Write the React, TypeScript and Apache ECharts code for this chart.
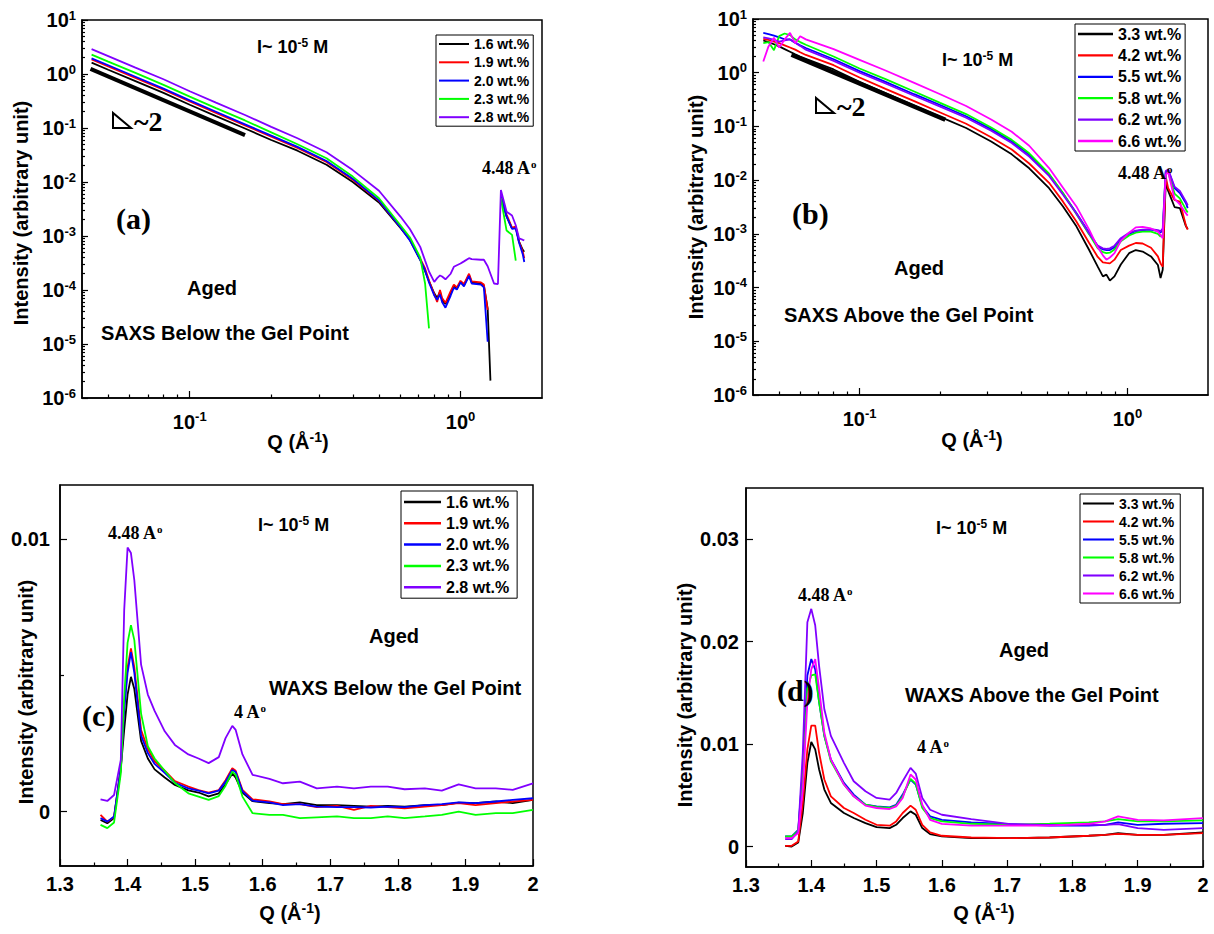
import React, { useEffect, useRef } from "react";
import * as echarts from "echarts";

const SANS = '"Liberation Sans", Arial, Helvetica, sans-serif';
const SERIF = '"Liberation Serif", "Times New Roman", Times, serif';

// ---------- legends / colours ----------
const namesBelow = ["1.6 wt.%", "1.9 wt.%", "2.0 wt.%", "2.3 wt.%", "2.8 wt.%"];
const colorsBelow = ["#000000", "#ff0000", "#0000ff", "#00ff00", "#8000ff"];
const namesAbove = ["3.3 wt.%", "4.2 wt.%", "5.5 wt.%", "5.8 wt.%", "6.2 wt.%", "6.6 wt.%"];
const colorsAbove = ["#000000", "#ff0000", "#0000ff", "#00ff00", "#8000ff", "#ff00ff"];

// ---------- tick labels ----------
const saxsQRange = [0.04, 2];
const saxsXExp = [-1, 0];
const saxsYExp = [-6, 1];
const waxsXTicks = [1.3, 1.4, 1.5, 1.6, 1.7, 1.8, 1.9, 2.0];
const waxsXMinor = [1.35, 1.45, 1.55, 1.65, 1.75, 1.85, 1.95];
const waxsCYTicks = [0, 0.01];
const waxsCYMinor = [0.005];
const waxsDYTicks = [0, 0.01, 0.02, 0.03];

// ---------- (a) SAXS below the gel point ----------
const qA = [0.0434, 0.05, 0.063, 0.08, 0.1, 0.125, 0.16, 0.2, 0.25, 0.32, 0.4, 0.5, 0.6, 0.65, 0.71, 0.74, 0.765, 0.8, 0.82, 0.84, 0.855, 0.88, 0.92, 0.945, 0.97, 1.0, 1.03, 1.075, 1.1, 1.19, 1.22, 1.26, 1.29, 1.33, 1.375, 1.41, 1.48, 1.55, 1.6, 1.645, 1.7, 1.72];
const a16 = [1.62, 1.2, 0.74, 0.447, 0.269, 0.166, 0.098, 0.06, 0.038, 0.0209, 0.01, 4.17e-3, 1.41e-3, 8.5e-4, 3.6e-4, 2.24e-4, 1.45e-4, 8.7e-5, 7.1e-5, 9.3e-5, 6.5e-5, 5.5e-5, 8.7e-5, 1.15e-4, 1.07e-4, 1.41e-4, 1.23e-4, 1.9e-4, 1.38e-4, 1.32e-4, 1.2e-4, 4.5e-5, 2.1e-6, null, null, 5.4e-3, 2.3e-3, 1.38e-3, 1.45e-3, 7.9e-4, 5.5e-4, 5.1e-4];
const a19 = [1.86, 1.38, 0.85, 0.513, 0.309, 0.191, 0.112, 0.069, 0.0427, 0.0234, 0.011, 4.47e-3, 1.48e-3, 8.7e-4, 3.8e-4, 2.5e-4, 1.5e-4, 8.3e-5, 6.0e-5, 1.0e-4, 7.1e-5, 5.8e-5, 9.5e-5, 1.26e-4, 1.12e-4, 1.48e-4, 1.29e-4, 2.0e-4, 1.45e-4, 1.38e-4, 1.26e-4, 4.3e-5, null, null, null, 5.4e-3, 2.5e-3, 1.41e-3, 1.51e-3, 7.9e-4, 5.0e-4, 3.9e-4];
const a20 = [1.95, 1.45, 0.89, 0.537, 0.324, 0.2, 0.117, 0.0724, 0.0447, 0.0245, 0.0115, 4.57e-3, 1.45e-3, 8.3e-4, 3.6e-4, 2.3e-4, 1.38e-4, 7.9e-5, 6.6e-5, 8.3e-5, 6.0e-5, 4.7e-5, 7.9e-5, 1.1e-4, 1.02e-4, 1.38e-4, 1.17e-4, 1.82e-4, 1.32e-4, 1.26e-4, 1.12e-4, 1.1e-5, null, null, null, 5.4e-3, 2.3e-3, 1.35e-3, 1.38e-3, 7.6e-4, 4.5e-4, 3.3e-4];
const a23 = [2.29, 1.7, 1.05, 0.63, 0.38, 0.234, 0.138, 0.083, 0.05, 0.0275, 0.0126, 5.0e-3, 1.58e-3, 9.5e-4, 4.0e-4, 1.32e-4, 1.95e-5, null, null, null, null, null, null, null, null, null, null, null, null, null, null, null, null, null, null, 5.0e-3, 1.26e-3, 1.05e-3, 3.5e-4, null, null, null];
const a28 = [2.88, 2.14, 1.31, 0.8, 0.48, 0.295, 0.174, 0.105, 0.0646, 0.0355, 0.0166, 6.9e-3, 2.29e-3, 1.35e-3, 6.3e-4, 3.5e-4, 2.2e-4, 1.41e-4, 1.66e-4, 1.86e-4, 1.78e-4, 1.58e-4, 2.0e-4, 2.69e-4, 2.88e-4, 3.09e-4, 3.39e-4, 3.89e-4, 3.72e-4, 3.63e-4, 3.63e-4, 2.75e-4, 2.0e-4, 1.32e-4, 1.29e-4, 7.08e-3, 2.82e-3, 2.4e-3, 1.58e-3, 9.1e-4, 8.5e-4, 8.3e-4];
const slopeAQ = [0.043, 0.16];
const slopeAI = [1.24, 0.074];

// ---------- (b) SAXS above the gel point ----------
const qB = [0.0437, 0.0457, 0.0479, 0.0501, 0.0525, 0.055, 0.0575, 0.06, 0.063, 0.08, 0.1, 0.125, 0.16, 0.2, 0.25, 0.31, 0.37, 0.43, 0.51, 0.575, 0.645, 0.72, 0.775, 0.81, 0.835, 0.86, 0.895, 0.945, 1.015, 1.075, 1.14, 1.225, 1.3, 1.33, 1.355, 1.39, 1.42, 1.5, 1.57, 1.655, 1.68];
const b33 = [3.98, 3.72, 3.39, 3.09, 2.75, 2.45, 2.19, 2.0, 1.82, 1.15, 0.676, 0.417, 0.245, 0.151, 0.0933, 0.0525, 0.0302, 0.0166, 7.08e-3, 3.24e-3, 1.38e-3, 5.0e-4, 2.45e-4, 1.62e-4, 1.74e-4, 1.35e-4, 1.62e-4, 2.69e-4, 4.37e-4, 5.0e-4, 4.68e-4, 3.8e-4, 2.63e-4, 1.51e-4, 2.14e-4, 8.9e-3, 6.3e-3, 3.16e-3, 3.02e-3, 1.38e-3, 1.23e-3];
const b42 = [4.27, 4.07, 3.8, 3.55, 3.24, 2.95, 2.69, 2.4, 2.14, 1.38, 0.813, 0.501, 0.295, 0.182, 0.112, 0.0631, 0.0372, 0.0204, 8.91e-3, 3.98e-3, 1.7e-3, 6.76e-4, 3.72e-4, 2.95e-4, 2.88e-4, 2.82e-4, 3.31e-4, 5.0e-4, 6.03e-4, 6.76e-4, 6.61e-4, 5.5e-4, 3.8e-4, 2.82e-4, 2.45e-4, 0.0117, 7.08e-3, 4.27e-3, 3.98e-3, 1.41e-3, 1.2e-3];
const b55 = [5.5, 5.25, 4.9, 4.57, 4.17, 4.17, 3.63, 3.24, 2.88, 1.78, 1.07, 0.676, 0.398, 0.251, 0.155, 0.0891, 0.0525, 0.0295, 0.0126, 5.62e-3, 2.45e-3, 1.05e-3, 5.9e-4, 5.13e-4, 5.0e-4, 5.0e-4, 5.62e-4, 7.94e-4, 1.0e-3, 1.12e-3, 1.17e-3, 1.2e-3, 1.12e-3, 1.07e-3, 1.12e-3, 0.0141, 0.0155, 7.08e-3, 5.75e-3, 3.72e-3, 3.02e-3];
const b58 = [3.55, 3.72, 2.63, 4.79, 5.37, 5.01, 4.17, 3.72, 3.31, 2.0, 1.2, 0.759, 0.447, 0.275, 0.17, 0.0955, 0.0562, 0.0316, 0.0132, 5.75e-3, 2.34e-3, 9.77e-4, 5.37e-4, 4.57e-4, 4.37e-4, 4.47e-4, 5.13e-4, 7.24e-4, 9.33e-4, 1.05e-3, 1.1e-3, 1.1e-3, 1.0e-3, 8.9e-4, 9.5e-4, 0.0132, 0.0141, 5.62e-3, 4.57e-3, 2.82e-3, 2.51e-3];
const b62 = [4.57, 4.37, 4.07, 3.8, 3.98, 4.17, 3.63, 3.16, 2.69, 1.66, 1.0, 0.631, 0.372, 0.234, 0.145, 0.0832, 0.049, 0.0275, 0.012, 5.37e-3, 2.4e-3, 1.02e-3, 6.03e-4, 5.37e-4, 5.25e-4, 5.37e-4, 6.03e-4, 8.32e-4, 1.05e-3, 1.15e-3, 1.2e-3, 1.23e-3, 1.17e-3, 1.12e-3, 1.26e-3, 0.0148, 0.0158, 7.59e-3, 6.31e-3, 3.98e-3, 3.39e-3];
const b66 = [1.62, 3.09, 4.47, 2.95, 4.17, 5.5, 3.55, 4.79, 4.17, 2.75, 1.74, 1.1, 0.646, 0.398, 0.24, 0.135, 0.0794, 0.0437, 0.0168, 7.24e-3, 3.24e-3, 1.2e-3, 5.62e-4, 3.98e-4, 3.31e-4, 3.63e-4, 4.37e-4, 7.41e-4, 1.05e-3, 1.32e-3, 1.35e-3, 1.26e-3, 1.1e-3, 9.55e-4, 8.32e-4, 0.0126, 0.0141, 4.47e-3, 3.55e-3, 2.4e-3, 2.19e-3];
const slopeBQ = [0.0557, 0.209];
const slopeBI = [2.16, 0.133];

// ---------- (c) WAXS below the gel point ----------
const qC = [1.36, 1.37, 1.38, 1.39, 1.395, 1.4, 1.405, 1.41, 1.42, 1.43, 1.44, 1.455, 1.47, 1.49, 1.505, 1.52, 1.535, 1.545, 1.555, 1.56, 1.57, 1.585, 1.61, 1.63, 1.655, 1.68, 1.71, 1.735, 1.76, 1.785, 1.81, 1.84, 1.865, 1.89, 1.915, 1.945, 1.97, 2.0];
const c16 = [-0.31e-3, -0.43e-3, -0.24e-3, 1.6e-3, 3.0e-3, 4.3e-3, 4.95e-3, 4.5e-3, 2.6e-3, 1.95e-3, 1.55e-3, 1.25e-3, 0.98e-3, 0.78e-3, 0.7e-3, 0.56e-3, 0.67e-3, 1.0e-3, 1.4e-3, 1.25e-3, 0.7e-3, 0.38e-3, 0.31e-3, 0.27e-3, 0.34e-3, 0.24e-3, 0.24e-3, 0.21e-3, 0.18e-3, 0.21e-3, 0.18e-3, 0.24e-3, 0.24e-3, 0.33e-3, 0.31e-3, 0.37e-3, 0.31e-3, 0.43e-3];
const c19 = [-0.12e-3, -0.37e-3, -0.2e-3, 1.6e-3, 3.9e-3, 5.3e-3, 6.0e-3, 5.3e-3, 3.0e-3, 2.3e-3, 1.85e-3, 1.5e-3, 1.12e-3, 0.92e-3, 0.79e-3, 0.7e-3, 0.79e-3, 1.15e-3, 1.59e-3, 1.5e-3, 0.8e-3, 0.45e-3, 0.37e-3, 0.27e-3, 0.27e-3, 0.16e-3, 0.21e-3, 0.06e-3, 0.21e-3, 0.16e-3, 0.12e-3, 0.18e-3, 0.24e-3, 0.31e-3, 0.24e-3, 0.31e-3, 0.37e-3, 0.43e-3];
const c20 = [-0.24e-3, -0.37e-3, -0.18e-3, 1.6e-3, 3.7e-3, 5.1e-3, 5.86e-3, 5.1e-3, 2.8e-3, 2.15e-3, 1.75e-3, 1.42e-3, 1.06e-3, 0.85e-3, 0.77e-3, 0.67e-3, 0.77e-3, 1.1e-3, 1.53e-3, 1.45e-3, 0.75e-3, 0.4e-3, 0.34e-3, 0.24e-3, 0.27e-3, 0.18e-3, 0.16e-3, 0.16e-3, 0.15e-3, 0.18e-3, 0.16e-3, 0.24e-3, 0.27e-3, 0.34e-3, 0.31e-3, 0.37e-3, 0.43e-3, 0.49e-3];
const c23 = [-0.49e-3, -0.61e-3, -0.4e-3, 1.4e-3, 4.2e-3, 6.2e-3, 6.85e-3, 6.3e-3, 3.6e-3, 2.4e-3, 1.95e-3, 1.5e-3, 1.05e-3, 0.67e-3, 0.55e-3, 0.43e-3, 0.57e-3, 0.95e-3, 1.47e-3, 1.35e-3, 0.55e-3, -0.06e-3, -0.12e-3, -0.12e-3, -0.24e-3, -0.21e-3, -0.18e-3, -0.24e-3, -0.24e-3, -0.18e-3, -0.24e-3, -0.18e-3, -0.12e-3, 0.0, -0.12e-3, -0.06e-3, -0.06e-3, 0.06e-3];
const c28 = [0.45e-3, 0.39e-3, 0.61e-3, 1.9e-3, 7.4e-3, 9.7e-3, 9.5e-3, 8.5e-3, 5.4e-3, 4.3e-3, 3.7e-3, 2.95e-3, 2.45e-3, 2.1e-3, 1.95e-3, 1.78e-3, 2.0e-3, 2.7e-3, 3.15e-3, 3.0e-3, 2.1e-3, 1.35e-3, 1.2e-3, 1.04e-3, 1.1e-3, 0.85e-3, 0.92e-3, 0.85e-3, 0.92e-3, 0.92e-3, 0.82e-3, 0.85e-3, 0.77e-3, 1.0e-3, 0.85e-3, 0.85e-3, 0.8e-3, 1.04e-3];

// ---------- (d) WAXS above the gel point ----------
const qD = [1.36, 1.37, 1.38, 1.387, 1.394, 1.4, 1.406, 1.412, 1.42, 1.43, 1.45, 1.465, 1.483, 1.5, 1.52, 1.53, 1.54, 1.552, 1.56, 1.57, 1.582, 1.6, 1.645, 1.705, 1.765, 1.825, 1.85, 1.87, 1.9, 1.94, 2.0];
const d33 = [0.07e-3, 0.0, 0.39e-3, 3.27e-3, 8.17e-3, 10.2e-3, 9.48e-3, 7.52e-3, 5.56e-3, 4.25e-3, 3.27e-3, 2.78e-3, 2.29e-3, 1.9e-3, 1.8e-3, 2.12e-3, 2.78e-3, 3.43e-3, 3.1e-3, 1.8e-3, 1.21e-3, 0.98e-3, 0.82e-3, 0.82e-3, 0.88e-3, 1.05e-3, 1.14e-3, 1.31e-3, 1.14e-3, 1.14e-3, 1.37e-3];
const d42 = [0.07e-3, 0.07e-3, 0.49e-3, 4.25e-3, 9.48e-3, 11.8e-3, 11.8e-3, 9.15e-3, 6.54e-3, 4.9e-3, 3.76e-3, 3.27e-3, 2.61e-3, 2.12e-3, 2.03e-3, 2.45e-3, 3.27e-3, 3.99e-3, 3.59e-3, 2.12e-3, 1.37e-3, 1.05e-3, 0.88e-3, 0.82e-3, 0.88e-3, 1.05e-3, 1.14e-3, 1.24e-3, 1.14e-3, 1.14e-3, 1.31e-3];
const d55 = [0.98e-3, 0.98e-3, 1.63e-3, 7.52e-3, 16.7e-3, 18.3e-3, 17.3e-3, 14.1e-3, 10.8e-3, 8.5e-3, 6.21e-3, 5.07e-3, 4.08e-3, 3.92e-3, 3.82e-3, 4.08e-3, 5.07e-3, 6.54e-3, 6.05e-3, 3.92e-3, 2.94e-3, 2.61e-3, 2.35e-3, 2.19e-3, 2.03e-3, 2.03e-3, 2.12e-3, 2.35e-3, 2.12e-3, 2.22e-3, 2.29e-3];
const d58 = [0.98e-3, 0.98e-3, 1.55e-3, 6.86e-3, 15.4e-3, 16.7e-3, 16.8e-3, 14.1e-3, 10.8e-3, 8.33e-3, 6.05e-3, 4.9e-3, 4.08e-3, 3.86e-3, 3.76e-3, 3.99e-3, 4.9e-3, 6.6e-3, 6.14e-3, 3.76e-3, 2.78e-3, 2.45e-3, 2.22e-3, 2.12e-3, 2.22e-3, 2.35e-3, 2.45e-3, 2.68e-3, 2.45e-3, 2.45e-3, 2.55e-3];
const d62 = [0.72e-3, 0.72e-3, 1.47e-3, 9.15e-3, 21.9e-3, 23.2e-3, 21.6e-3, 17.6e-3, 13.4e-3, 10.8e-3, 8.17e-3, 6.37e-3, 5.39e-3, 4.74e-3, 4.58e-3, 5.23e-3, 6.37e-3, 7.68e-3, 7.12e-3, 4.74e-3, 3.59e-3, 3.1e-3, 2.68e-3, 2.19e-3, 2.12e-3, 2.12e-3, 2.12e-3, 2.19e-3, 1.8e-3, 1.63e-3, 1.8e-3];
const d66 = [0.82e-3, 0.82e-3, 1.31e-3, 5.56e-3, 14.1e-3, 17.3e-3, 18.3e-3, 15.4e-3, 11.1e-3, 8.5e-3, 6.05e-3, 4.9e-3, 3.99e-3, 3.76e-3, 3.66e-3, 3.92e-3, 4.74e-3, 7.03e-3, 6.54e-3, 4.08e-3, 2.61e-3, 2.22e-3, 2.03e-3, 2.03e-3, 2.03e-3, 2.22e-3, 2.45e-3, 2.94e-3, 2.61e-3, 2.55e-3, 2.78e-3];

// ---------- option building ----------
const lg = Math.log10;
const BLACK = "#000";
const LINE_ICON = "path://M0,0 H30 V2 H0 Z";

function logData(q: number[], v: (number | null)[]) {
  return q.map((x, i) => [lg(x), v[i] == null ? "-" : lg(v[i] as number)]);
}
function linData(q: number[], v: number[]) {
  return q.map((x, i) => [x, v[i]]);
}
function lineSeries(name: string, color: string, data: any[], idx: number, width = 1.8) {
  return {
    type: "line", name, data, xAxisIndex: idx, yAxisIndex: idx,
    symbol: "none", showSymbol: false, connectNulls: false, silent: true,
    lineStyle: { color, width }, itemStyle: { color },
    emphasis: { disabled: true }, animation: false,
  };
}

const powRich = {
  b: { fontSize: 20, fontWeight: "bold", fontFamily: SANS, color: BLACK },
  s: { fontSize: 13, fontWeight: "bold", fontFamily: SANS, color: BLACK, padding: [0, 0, 10, 0] },
};
const powFmt = (v: number) => `{b|10}{s|${Math.round(v)}}`;
const axisLine = { show: true, onZero: false, lineStyle: { color: BLACK, width: 1.5 } };
const tickStyle = { color: BLACK, width: 1.2 };
const numLabel = { fontSize: 20, fontWeight: "bold", fontFamily: SANS, color: BLACK };

function logMinor(lo: number, hi: number) {
  const out: number[] = [];
  for (let d = Math.floor(lo) - 1; d <= Math.ceil(hi); d++) {
    for (let k = 2; k <= 9; k++) {
      const v = d + lg(k);
      if (v > lo + 1e-6 && v < hi - 1e-6) out.push(v);
    }
  }
  return out;
}

const gridRects = [
  { left: 82, top: 20, width: 460, height: 378 },
  { left: 753, top: 19, width: 455, height: 376 },
  { left: 60, top: 485, width: 473, height: 381 },
  { left: 746, top: 488, width: 457, height: 379 },
];

function buildOption() {
  const xMin = lg(saxsQRange[0]);
  const xMax = lg(saxsQRange[1]);
  const yMin = saxsYExp[0];
  const yMax = saxsYExp[1];

  const grids: any[] = gridRects.map((r) => ({ ...r, show: true, borderColor: BLACK, borderWidth: 1.5, backgroundColor: "transparent", containLabel: false }));
  gridRects.forEach((r) => grids.push({ ...r, show: false, containLabel: false }));

  const saxsX = (gridIndex: number) => ({
    type: "value", gridIndex, min: xMin, max: xMax, axisLine,
    axisTick: { show: true, inside: true, length: 7, lineStyle: tickStyle, customValues: saxsXExp },
    axisLabel: { show: true, customValues: saxsXExp, formatter: powFmt, rich: powRich, margin: 12, color: BLACK },
    splitLine: { show: false },
  });
  const saxsY = (gridIndex: number) => ({
    type: "value", gridIndex, min: yMin, max: yMax, interval: 1, axisLine,
    axisTick: { show: true, inside: true, length: 6, lineStyle: tickStyle },
    axisLabel: { show: true, formatter: powFmt, rich: powRich, margin: 6, color: BLACK },
    splitLine: { show: false },
  });
  const waxsX = (gridIndex: number) => ({
    type: "value", gridIndex, min: 1.3, max: 2.0, axisLine,
    axisTick: { show: true, inside: true, length: 7, lineStyle: tickStyle, customValues: waxsXTicks },
    axisLabel: {
      show: true, customValues: waxsXTicks, margin: 8, ...numLabel,
      formatter: (v: number) => (Math.abs(v - 2) < 1e-9 ? "2" : v.toFixed(1)),
    },
    splitLine: { show: false },
  });
  const waxsY = (gridIndex: number, min: number, max: number, ticks: number[], margin: number) => ({
    type: "value", gridIndex, min, max, axisLine,
    axisTick: { show: true, inside: true, length: 7, lineStyle: tickStyle, customValues: ticks },
    axisLabel: {
      show: true, customValues: ticks, margin, ...numLabel,
      formatter: (v: number) => (Math.abs(v) < 1e-12 ? "0" : String(+v.toFixed(3))),
    },
    splitLine: { show: false },
  });
  const minorAxis = (gridIndex: number, min: number, max: number, values: number[], len: number) => ({
    type: "value", gridIndex, min, max,
    axisLine: { show: false, onZero: false },
    axisTick: { show: values.length > 0, inside: true, length: len, lineStyle: tickStyle, customValues: values },
    axisLabel: { show: false },
    splitLine: { show: false },
  });

  const xAxis = [
    saxsX(0), saxsX(1), waxsX(2), waxsX(3),
    minorAxis(4, xMin, xMax, logMinor(xMin, xMax), 3.5),
    minorAxis(5, xMin, xMax, logMinor(xMin, xMax), 3.5),
    minorAxis(6, 1.3, 2.0, waxsXMinor, 3.5),
    minorAxis(7, 1.3, 2.0, waxsXMinor, 3.5),
  ];
  const yAxis = [
    saxsY(0), saxsY(1),
    waxsY(2, -0.002, 0.012, waxsCYTicks, 10),
    waxsY(3, -0.002, 0.035, waxsDYTicks, 7),
    minorAxis(4, yMin, yMax, logMinor(yMin, yMax), 3),
    minorAxis(5, yMin, yMax, logMinor(yMin, yMax), 3),
    minorAxis(6, -0.002, 0.012, waxsCYMinor, 4),
    minorAxis(7, -0.002, 0.035, [], 4),
  ];

  const aVals = [a16, a19, a20, a23, a28];
  const bVals = [b33, b42, b55, b58, b62, b66];
  const cVals = [c16, c19, c20, c23, c28];
  const dVals = [d33, d42, d55, d58, d62, d66];

  const series: any[] = [];
  aVals.forEach((v, i) => series.push(lineSeries(namesBelow[i], colorsBelow[i], logData(qA, v), 0)));
  series.push(lineSeries("slope (a)", BLACK, logData(slopeAQ, slopeAI), 0, 4));
  bVals.forEach((v, i) => series.push(lineSeries(namesAbove[i], colorsAbove[i], logData(qB, v), 1)));
  series.push(lineSeries("slope (b)", BLACK, logData(slopeBQ, slopeBI), 1, 4.5));
  cVals.forEach((v, i) => series.push(lineSeries(namesBelow[i], colorsBelow[i], linData(qC, v), 2)));
  dVals.forEach((v, i) => series.push(lineSeries(namesAbove[i], colorsAbove[i], linData(qD, v), 3)));

  const legendBase = (data: string[], left: number, top: number, fontSize: number, itemWidth: number, itemGap: number, padding: number[]) => ({
    data, left, top, orient: "vertical", itemWidth, itemHeight: fontSize, itemGap, padding,
    icon: LINE_ICON, symbolKeepAspect: true,
    borderColor: BLACK, borderWidth: 1, backgroundColor: "#fff", selectedMode: false,
    textStyle: { fontSize, fontWeight: "bold", fontFamily: SANS, color: BLACK },
  });
  const legend = [
    legendBase(namesBelow, 436, 35, 14, 30, 4.3, [2, 4, 2, 3]),
    legendBase(namesAbove, 1075, 24, 16, 35, 5.4, [2, 4, 2, 3]),
    legendBase(namesBelow, 401, 491, 16, 37, 5.3, [3, 8, 3, 3]),
    legendBase(namesAbove, 1080, 494, 14, 31, 4, [2.5, 6, 2.5, 3]),
  ];

  const supRich = (size: number, family: string, raise: number) => ({
    s: { fontSize: size, fontWeight: "bold", fontFamily: family, fill: BLACK, color: BLACK, padding: [0, 0, raise, 0] },
  });
  const T = (x: number, y: number, text: string, size: number, family = SANS, extra: any = {}) => ({
    type: "text", x, y, silent: true, z: 100,
    style: {
      text, fontSize: size, fontWeight: "bold", fontFamily: family, fill: BLACK,
      align: "left", verticalAlign: "middle", textAlign: "left", textVerticalAlign: "middle", ...extra,
    },
  });
  const conc = (x: number, y: number) => T(x, y, "I~ 10{s|-5} M", 18, SANS, { rich: supRich(12, SANS, 9) });
  const dspace = (x: number, y: number) => T(x, y, "4.48 A{s|o}", 18, SERIF, { rich: supRich(11, SERIF, 9) });
  const four = (x: number, y: number) => T(x, y, "4 A{s|o}", 18, SERIF, { rich: supRich(11, SERIF, 9) });
  const yTitle = (x: number, y: number) => ({
    type: "text", x, y, rotation: Math.PI / 2, silent: true, z: 100,
    style: {
      text: "Intensity (arbitrary unit)", fontSize: 20, fontWeight: "bold", fontFamily: SANS, fill: BLACK,
      align: "center", verticalAlign: "middle", textAlign: "center", textVerticalAlign: "middle",
    },
  });
  const xTitle = (x: number, y: number) => T(x, y, "Q (Å{s|-1})", 20, SANS, {
    rich: supRich(14, SANS, 11), align: "center", textAlign: "center",
  });
  const tri = (x: number, y: number) => ({
    type: "polygon", silent: true, z: 100,
    shape: { points: [[x, y], [x, y + 15], [x + 18, y + 15]] },
    style: { fill: "none", stroke: BLACK, lineWidth: 2 },
  });

  const graphic = [
    // (a)
    conc(257, 47), tri(113, 113), T(134, 121, "~2", 28, SERIF), T(116, 218, "(a)", 30, SERIF),
    dspace(482, 168), T(187, 288, "Aged", 20), T(101, 333, "SAXS Below the Gel Point", 20),
    yTitle(21, 213), xTitle(298, 442),
    // (b)
    conc(942, 60), tri(816, 98), T(837, 106, "~2", 28, SERIF), T(792, 213, "(b)", 30, SERIF),
    dspace(1118, 173), T(894, 268, "Aged", 20), T(784, 315, "SAXS Above the Gel Point", 20),
    yTitle(696, 207), xTitle(972, 440),
    // (c)
    conc(258, 525), dspace(108, 533), T(369, 636, "Aged", 20), T(269, 688, "WAXS Below the Gel Point", 20),
    T(82, 715, "(c)", 30, SERIF), four(234, 712), yTitle(26, 692), xTitle(290, 913),
    // (d)
    conc(936, 528), dspace(798, 595), T(999, 650, "Aged", 20), T(777, 690, "(d)", 30, SERIF),
    T(905, 695, "WAXS Above the Gel Point", 20), four(917, 747), yTitle(685, 695), xTitle(984, 913),
  ];

  return {
    animation: false,
    backgroundColor: "#fff",
    grid: grids,
    xAxis,
    yAxis,
    legend,
    series,
    graphic,
  };
}

export default function App() {
  const ref = useRef<HTMLDivElement>(null);
  useEffect(() => {
    if (!ref.current) return;
    const chart = echarts.init(ref.current, null, { renderer: "svg" });
    chart.setOption(buildOption() as any);
    return () => chart.dispose();
  }, []);
  return (
    <div
      ref={ref}
      style={{ position: "absolute", left: 0, top: 0, width: 1214, height: 934, background: "#fff" }}
    />
  );
}
